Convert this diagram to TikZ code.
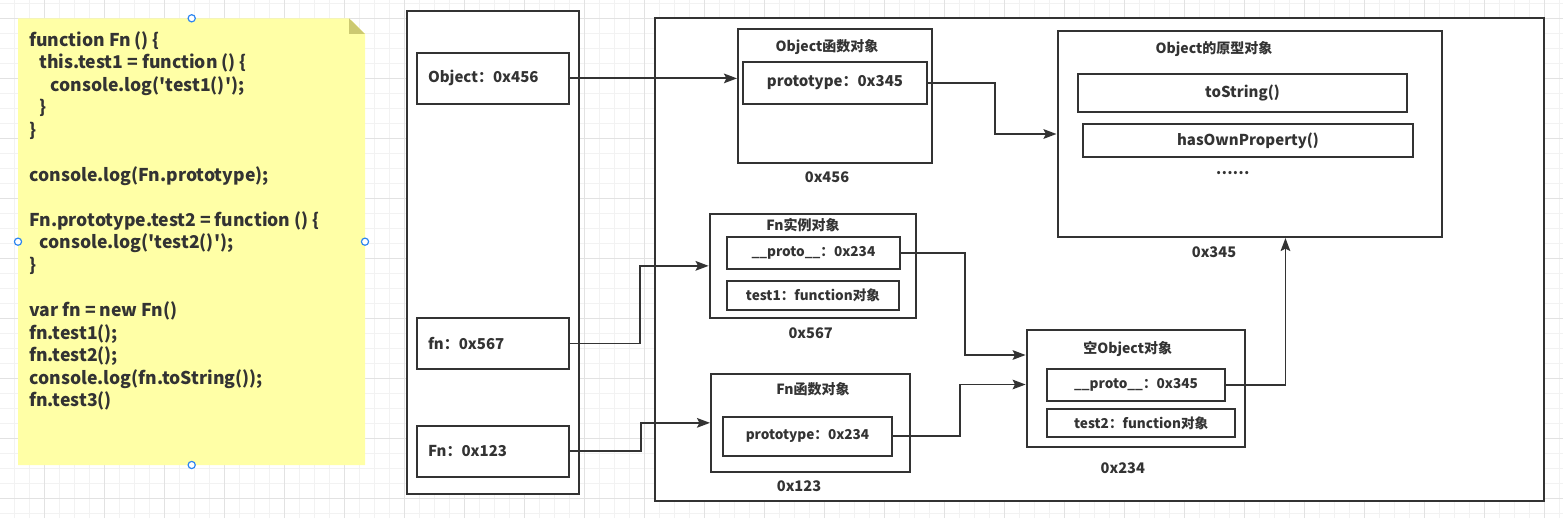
\documentclass[tikz,border=0pt]{standalone}
\usepackage{fontspec}
\setmainfont{Noto Sans CJK SC}
\usetikzlibrary{fit,arrows.meta}
\definecolor{linec}{HTML}{333333}
\definecolor{notefill}{HTML}{FFFFA6}
\definecolor{notefold}{HTML}{CCC971}
\definecolor{gridminor}{HTML}{F2F2F2}
\definecolor{gridmajor}{HTML}{E2E2E2}
\definecolor{handle}{HTML}{2E86F0}
\begin{document}
\begin{tikzpicture}[
    x=0.5pt,
    y=-0.5pt,
    font=\bfseries\fontsize{7.5}{9}\selectfont,
    every node/.style={text=linec},
    box/.style={draw=linec, fill=white, line width=1pt, inner sep=0pt},
    varbox/.style={box, minimum width=76pt, minimum height=25.5pt, text width=65pt, align=left},
    title/.style={font=\bfseries\fontsize{7}{8}\selectfont},
    addr/.style={font=\bfseries\fontsize{7.3}{8}\selectfont},
    small/.style={font=\bfseries\fontsize{6.8}{8}\selectfont},
    codeline/.style={anchor=base west, inner sep=0pt, font=\bfseries\fontsize{8.8}{11}\selectfont},
    conn/.style={draw=linec, line width=0.9pt, -{Stealth[length=6.5pt,width=4.8pt,inset=1.2pt]}},
    handledot/.style={draw=handle, fill=white, line width=0.6pt}
]
\useasboundingbox (0,0) rectangle (1563,518);

% canvas grid, minor then major lines
\foreach \x in {14.7,29.7,...,1563} \draw[gridminor, line width=0.5pt] (\x,0) -- (\x,518);
\foreach \y in {3.7,18.7,...,518} \draw[gridminor, line width=0.5pt] (0,\y) -- (1563,\y);
\foreach \x in {44.7,104.7,...,1563} \draw[gridmajor, line width=0.5pt] (\x,0) -- (\x,518);
\foreach \y in {18.7,78.7,...,518} \draw[gridmajor, line width=0.5pt] (0,\y) -- (1563,\y);

% sticky note with the code
\fill[notefill] (18,18.3) -- (349,18.3) -- (365,34) -- (365,465) -- (18,465) -- cycle;
\fill[notefold] (349,18.3) -- (365,34) -- (349,34) -- cycle;
\foreach \i/\ind/\txt in {
    0/29/{function Fn () \{},
    1/39/{this.test1 = function () \{},
    2/50/{console.log(\textquotesingle test1()\textquotesingle);},
    3/39/{\}},
    4/29/{\}},
    6/29/{console.log(Fn.prototype);},
    8/29/{Fn.prototype.test2 = function () \{},
    9/39/{console.log(\textquotesingle test2()\textquotesingle);},
    10/29/{\}},
    12/29/{var fn = new Fn()},
    13/29/{fn.test1();},
    14/29/{fn.test2();},
    15/29/{console.log(fn.toString());},
    16/29/{fn.test3()}
} {
    \node[codeline] (code\i) at (\ind,{46.5+22.5*\i}) {\txt};
}
\foreach \x/\y in {191.7/18.3, 18/241.7, 365/241.7, 191.7/465} {
    \draw[handledot] (\x,\y) circle (1.8pt);
}

% stack
\node[box, fit={(407,11) (578.6,494)}] (stack) {};
\node[varbox] (objvar) at (493,78.4) {Object：0x456};
\node[varbox] (fnvar) at (493,343.4) {fn：0x567};
\node[varbox] (ctorvar) at (493,451.2) {Fn：0x123};

% heap
\node[box, fit={(655,18.3) (1544,500.5)}] (heap) {};

\node[box, fit={(738,29) (932,163)}] (objfn) {};
\node[title] (objfntitle) at (827,46.7) {Object函数对象};
\node[box, minimum width=92pt, minimum height=21.15pt] (objproto) at (835,82.85) {prototype：0x345};
\node[addr] (objfnaddr) at (827,177) {0x456};

\node[box, fit={(1057.5,31) (1441.8,237)}] (protoobj) {};
\node[title] (protoobjtitle) at (1214,49) {Object的原型对象};
\node[box, minimum width=164.5pt, minimum height=19pt] (tostr) at (1242.5,93) {toString()};
\node[box, minimum width=165pt, minimum height=16.5pt] (hasown) at (1248,140.5) {hasOwnProperty()};
\node (more) at (1232.6,172.7) {……};
\node[addr] (protoobjaddr) at (1214,252.7) {0x345};

\node[box, fit={(709.6,214) (916,317.7)}] (fninst) {};
\node[title] (fninsttitle) at (803,225) {Fn实例对象};
\node[box, small, minimum width=86.6pt, minimum height=16pt] (instproto) at (813.4,253) {\_\_proto\_\_：0x234};
\node[box, small, minimum width=86pt, minimum height=14.5pt] (insttest) at (813,295.2) {test1：function对象};
\node[addr] (fninstaddr) at (810.7,333) {0x567};

\node[box, fit={(711,373.7) (910,472)}] (fnfn) {};
\node[title] (fnfntitle) at (813,389) {Fn函数对象};
\node[box, small, minimum width=84.5pt, minimum height=19.65pt] (fnproto) at (807.5,436.35) {prototype：0x234};
\node[addr] (fnfnaddr) at (799,485.7) {0x123};

\node[box, fit={(1026.6,330) (1245,447)}] (emptyobj) {};
\node[title] (emptyobjtitle) at (1127.7,349.3) {空Object对象};
\node[box, small, minimum width=89pt, minimum height=16.15pt] (emptyproto) at (1136,384.85) {\_\_proto\_\_：0x345};
\node[box, small, minimum width=94.2pt, minimum height=14.3pt] (emptytest) at (1141.2,423) {test2：function对象};
\node[addr] (emptyobjaddr) at (1122.8,468.3) {0x234};

% references
\draw[conn] (objvar.east) -- (objvar.east -| objfn.west);
\draw[conn] (objproto.east) -- ++(67,0) |- (protoobj.west);
\draw[conn] (fnvar.east) -- ++(70,0) |- (fninst.west);
\draw[conn] (ctorvar.east) -- ++(71,0) |- (fnfn.west);
\draw[conn] (instproto.east) -- ++(64,0) |- ([yshift=16.75pt]emptyobj.west);
\draw[conn] (fnproto.east) -- ++(67,0) |- ([yshift=2pt]emptyobj.west);
\draw[conn] (emptyproto.east) -| ([xshift=17.9pt]protoobj.south);
\end{tikzpicture}
\end{document}
